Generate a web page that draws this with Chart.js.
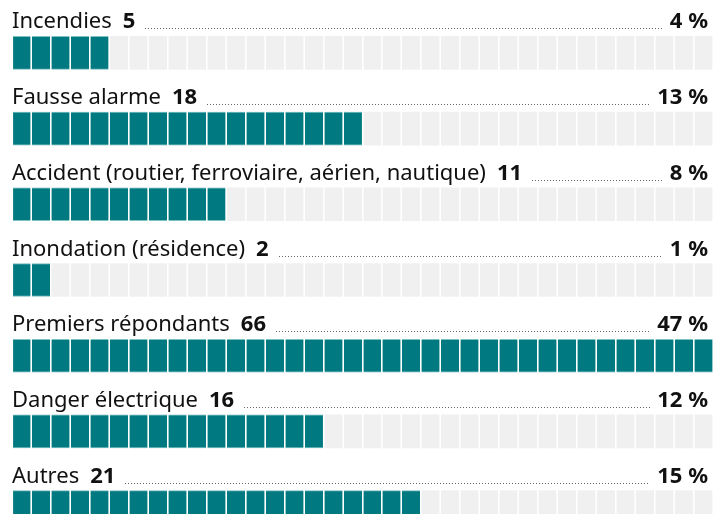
<!DOCTYPE html>
<html>
<head>
<meta charset="utf-8">
<script src="https://cdn.jsdelivr.net/npm/chart.js@4.4.0/dist/chart.umd.min.js"></script>
<style>
  html, body { margin: 0; padding: 0; background: #fff; overflow: hidden; }
  #wrap { width: 723px; height: 545px; position: relative; }
</style>
</head>
<body>
<div id="wrap"><canvas id="myChart"></canvas></div>
<script>
// categories, counts and percentages
const categories = [
  "Incendies",
  "Fausse alarme",
  "Accident (routier, ferroviaire, aérien, nautique)",
  "Inondation (résidence)",
  "Premiers répondants",
  "Danger électrique",
  "Autres"
];
const counts = [5, 18, 11, 2, 66, 16, 21];
const percents = ["4 %", "13 %", "8 %", "1 %", "47 %", "12 %", "15 %"];
const cellCount = 36; // number of cells in each row
const fullRow = categories.map(function(){ return cellCount; });

const fontName = "'Noto Sans', 'Open Sans', sans-serif";

// draws the label, count, dotted leader and percentage above each bar
const rowLabels = {
  id: 'rowLabels',
  afterDraw: function(chart) {
    const ctx = chart.ctx;
    const meta = chart.getDatasetMeta(0);
    const left = chart.chartArea.left;
    const right = 708;
    ctx.save();
    ctx.textBaseline = 'alphabetic';
    meta.data.forEach(function(bar, i) {
      const y = bar.y - 16.5 - 8;
      ctx.fillStyle = '#111';
      ctx.font = '400 22px ' + fontName;
      ctx.textAlign = 'left';
      ctx.fillText(categories[i], left, y);
      let x = left + ctx.measureText(categories[i]).width + 11;
      ctx.font = '700 22px ' + fontName;
      ctx.fillText(counts[i], x, y);
      x += ctx.measureText(String(counts[i])).width + 10;
      ctx.textAlign = 'right';
      ctx.fillText(percents[i], right, y);
      const pEnd = right - ctx.measureText(percents[i]).width - 8;
      ctx.fillStyle = '#666';
      for (let d = x; d < pEnd; d += 3) {
        ctx.fillRect(Math.round(d), Math.round(y) , 1, 1);
      }
    });
    ctx.restore();
  }
};

var ctx = document.getElementById('myChart').getContext('2d');
var chart = new Chart(ctx, {
    type: 'bar',
    data: {
        labels: categories,
        datasets: [{
            data: counts,
            backgroundColor: '#007a80',
            borderColor: '#7cc0c2',
            borderWidth: 1,
            borderSkipped: false,
            grouped: false,
            barThickness: 33
        }, {
            data: fullRow,
            backgroundColor: '#f0f0f0',
            borderWidth: 0,
            grouped: false,
            barThickness: 33
        }]
    },
    options: {
        indexAxis: 'y',
        responsive: true,
        maintainAspectRatio: false,
        animation: false,
        layout: { padding: { left: 12, right: 10, top: 15, bottom: 0 } },
        plugins: { legend: { display: false }, tooltip: { enabled: false } },
        scales: {
            x: {
                min: 0, max: cellCount,
                ticks: { display: false, stepSize: 1 },
                grid: { color: '#fff', lineWidth: 1, drawTicks: false, z: 2 },
                border: { display: false }
            },
            x2: {
                axis: 'x',
                min: 0, max: cellCount,
                ticks: { display: false, stepSize: 1 },
                grid: { color: 'rgba(255,255,255,0.6)', lineWidth: 2, drawTicks: false, z: 1 },
                border: { display: false }
            },
            y: { display: false }
        }
    },
    plugins: [rowLabels]
});
</script>
</body>
</html>
